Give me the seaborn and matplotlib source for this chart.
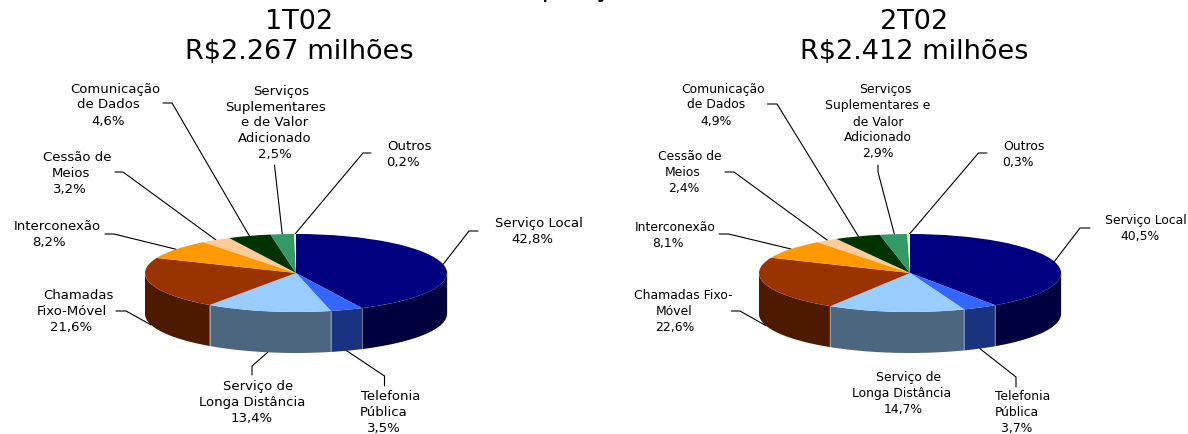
import numpy as np
import matplotlib
matplotlib.use('Agg')
import matplotlib.pyplot as plt
import seaborn as sns

# values in %, clockwise from the top
values_1t = [42.8, 3.5, 13.4, 21.6, 8.2, 3.2, 4.6, 2.5, 0.2]
values_2t = [40.5, 3.7, 14.7, 22.6, 8.1, 2.4, 4.9, 2.9, 0.3]

main_title = 'Análise da Composição da Receita Bruta'
titles_1t = ['1T02', 'R$2.267 milhões']
titles_2t = ['2T02', 'R$2.412 milhões']

names_1t = [['Serviço Local'], ['Telefonia', 'Pública'], ['Serviço de', 'Longa Distância'],
            ['Chamadas', 'Fixo-Móvel'], ['Interconexão'], ['Cessão de', 'Meios'],
            ['Comunicação', 'de Dados'], ['Serviços', 'Suplementares', 'e de Valor', 'Adicionado'],
            ['Outros']]
names_2t = [['Serviço Local'], ['Telefonia', 'Pública'], ['Serviço de', 'Longa Distância'],
            ['Chamadas Fixo-', 'Móvel'], ['Interconexão'], ['Cessão de', 'Meios'],
            ['Comunicação', 'de Dados'], ['Serviços', 'Suplementares e', 'de Valor', 'Adicionado'],
            ['Outros']]

top_colors = ['#000080', '#3366FF', '#99CCFF', '#993300', '#FF9900', '#FFCC99', '#003300', '#339966', '#CCFFCC']
side_colors = ['#000040', '#1A3380', '#4D6680', '#4D1A00', '#804D00', '#806633', '#001A00', '#1A4D33', '#668066']

# layout, in pixels of the picture
W, H = 1188, 435
RX, RY, DEPTH = 151, 39, 41
CY = 274

# centre x per line, y of first line
label_pos_1t = [([539, 532], 224), ([391, 384, 384], 397), ([258, 252, 252], 387),
                ([78, 72, 71], 296), ([57, 49], 227), ([77, 71, 70], 158),
                ([115, 108, 108], 89), ([281, 275, 275, 275, 275], 91), ([409, 403], 147)]
label_pos_2t = [([1146, 1140], 221), ([1023, 1017, 1017], 397), ([909, 902, 903], 378),
                ([683, 674, 675], 296), ([675, 668], 228), ([690, 683, 684], 157),
                ([723, 716, 716], 89), ([885, 878, 878, 878, 878], 90), ([1024, 1018], 147)]

# leader points going from the rim to the label, None where there is no line
leaders_1t = [[(469, 232), (478, 232)], [(384.5, 377), (384.5, 387)], [(252, 367), (252, 376)],
              [(126, 312), (116, 312)], [(114, 235), (105, 235)], [(123, 173), (115, 173)],
              [(172, 104), (163, 104)], [(274.5, 166)], [(363, 154), (371, 154)]]
leaders_2t = [[(1080, 229), (1090, 229)], [(1016, 378), (1016, 388)], None,
              [(740, 312), (731.5, 312)], [(728.5, 235), (719, 235)], [(734, 173), (725, 173)],
              [(777, 105), (767.5, 105)], [(878, 173), (878, 166)], [(978.5, 154), (987, 154)]]

sns.set_theme(style='white')
plt.rcParams['font.family'] = ['DejaVu Sans']

fig = plt.figure(figsize=(W / 100, H / 100), dpi=100)
bg = fig.add_axes([0, 0, 1, 1], zorder=1)
bg.set_xlim(0, W)
bg.set_ylim(H, 0)
bg.axis('off')


def draw_pie(values, cx, titles, title_x, names, label_pos, leaders, label_size):
    # the top is a normal pie squeezed into an ellipse by the axes box
    pad = 1.02
    box = [(cx - RX * pad) / W, 1 - (CY + RY * pad) / H, 2 * RX * pad / W, 2 * RY * pad / H]
    ax = fig.add_axes(box, zorder=2)
    ax.pie(values, colors=sns.color_palette(top_colors), startangle=90, counterclock=False, radius=1,
           wedgeprops={'linewidth': 0})
    ax.set_aspect('auto')
    ax.set_xlim(-pad, pad)
    ax.set_ylim(-pad, pad)

    edges = np.cumsum([0] + values) * 3.6
    for i, v in enumerate(values):
        # side wall, only the front half of the ellipse shows
        a0, a1 = max(edges[i], 90), min(edges[i + 1], 270)
        if a1 > a0:
            t = np.radians(np.linspace(a0, a1, 60))
            x = cx + RX * np.sin(t)
            y = CY - RY * np.cos(t)
            bg.fill(np.r_[x, x[::-1]], np.r_[y, y[::-1] + DEPTH], color=side_colors[i], lw=0)
            bg.plot([x[0], x[0]], [y[0], y[0] + DEPTH], color='#c8d0d8', lw=0.4)

        if leaders[i] is not None:
            mid = np.radians((edges[i] + edges[i + 1]) / 2)
            x0 = cx + RX * np.sin(mid)
            y0 = CY - RY * np.cos(mid)
            if 90 < np.degrees(mid) < 270:
                y0 += DEPTH
            pts = [(x0, y0)] + leaders[i]
            bg.plot([p[0] for p in pts], [p[1] for p in pts], color='black', lw=0.8)

        xs, y_first = label_pos[i]
        lines = names[i] + [f'{v:.1f}%'.replace('.', ',')]
        for j, line in enumerate(lines):
            bg.text(xs[j], y_first + 16 * j, line, ha='center', va='center', fontsize=label_size, color='black')

    for j, line in enumerate(titles):
        bg.text(title_x, 22 + 30 * j, line, ha='center', va='center', fontsize=19.5, color='black')


draw_pie(values_1t, 296, titles_1t, 299, names_1t, label_pos_1t, leaders_1t, 9.5)
draw_pie(values_2t, 910, titles_2t, 914, names_2t, label_pos_2t, leaders_2t, 8.9)

# the headline is cut by the top edge, only its lowest pixels show
bg.text(600, -3, main_title, ha='center', va='baseline', fontsize=18, color='black', clip_on=False)

plt.savefig('out.png', dpi=100)
